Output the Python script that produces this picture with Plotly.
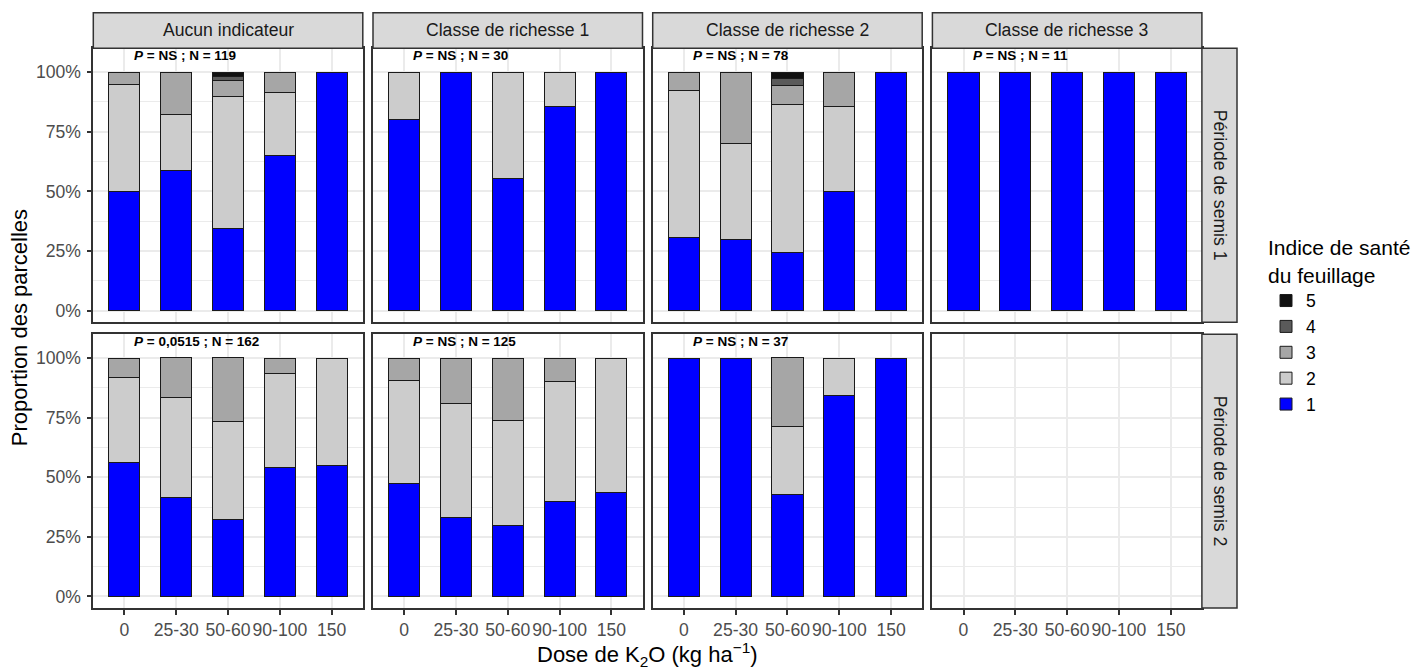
import plotly.graph_objects as go

# ---------------- data ----------------
categories = ["0", "25-30", "50-60", "90-100", "150"]
columns = ["Aucun indicateur", "Classe de richesse 1", "Classe de richesse 2", "Classe de richesse 3"]
rows = ["Période de semis 1", "Période de semis 2"]
levels = ["1", "2", "3", "4", "5"]
level_colors = ["#0000FF", "#CCCCCC", "#A6A6A6", "#5A5A5A", "#111111"]

# Période de semis 1 (percent of plots per health index 1..5)
p1_aucun_1 = [50.0, 58.8, 34.5, 65.2, 100.0]
p1_aucun_2 = [45.0, 23.5, 55.2, 26.1, 0.0]
p1_aucun_3 = [5.0, 17.6, 6.9, 8.7, 0.0]
p1_aucun_4 = [0.0, 0.0, 1.7, 0.0, 0.0]
p1_aucun_5 = [0.0, 0.0, 1.7, 0.0, 0.0]

p1_classe1_1 = [80.0, 100.0, 55.6, 85.7, 100.0]
p1_classe1_2 = [20.0, 0.0, 44.4, 14.3, 0.0]

p1_classe2_1 = [30.8, 30.0, 24.3, 50.0, 100.0]
p1_classe2_2 = [61.5, 40.0, 62.2, 35.7, 0.0]
p1_classe2_3 = [7.7, 30.0, 8.1, 14.3, 0.0]
p1_classe2_4 = [0.0, 0.0, 2.7, 0.0, 0.0]
p1_classe2_5 = [0.0, 0.0, 2.7, 0.0, 0.0]

p1_classe3_1 = [100.0, 100.0, 100.0, 100.0, 100.0]

# Période de semis 2
p2_aucun_1 = [56.0, 41.7, 32.4, 54.3, 55.0]
p2_aucun_2 = [36.0, 41.7, 41.2, 39.1, 45.0]
p2_aucun_3 = [8.0, 16.7, 26.5, 6.5, 0.0]

p2_classe1_1 = [47.6, 33.3, 29.6, 40.0, 43.8]
p2_classe1_2 = [42.9, 47.6, 44.4, 50.0, 56.2]
p2_classe1_3 = [9.5, 19.0, 25.9, 10.0, 0.0]

p2_classe2_1 = [100.0, 100.0, 42.9, 84.2, 100.0]
p2_classe2_2 = [0.0, 0.0, 28.6, 15.8, 0.0]
p2_classe2_3 = [0.0, 0.0, 28.6, 0.0, 0.0]

p_values_p1 = ["NS", "NS", "NS", "NS"]
n_values_p1 = [119, 30, 78, 11]
p_values_p2 = ["0,0515", "NS", "NS", None]
n_values_p2 = [162, 125, 37, None]

y_ticks = [0, 25, 50, 75, 100]
y_minor = [12.5, 37.5, 62.5, 87.5]

panel_series = {
    (0, 0): [p1_aucun_1, p1_aucun_2, p1_aucun_3, p1_aucun_4, p1_aucun_5],
    (0, 1): [p1_classe1_1, p1_classe1_2],
    (0, 2): [p1_classe2_1, p1_classe2_2, p1_classe2_3, p1_classe2_4, p1_classe2_5],
    (0, 3): [p1_classe3_1],
    (1, 0): [p2_aucun_1, p2_aucun_2, p2_aucun_3],
    (1, 1): [p2_classe1_1, p2_classe1_2, p2_classe1_3],
    (1, 2): [p2_classe2_1, p2_classe2_2, p2_classe2_3],
    (1, 3): [],
}
panel_labels = {(0, c): (p_values_p1[c], n_values_p1[c]) for c in range(4)}
panel_labels.update({(1, c): (p_values_p2[c], n_values_p2[c]) for c in range(4)})

# ---------------- layout geometry (pixels) ----------------
W, H = 1415, 671
col_px = [(93.3, 362.8), (373.0, 642.5), (652.7, 922.2), (932.4, 1201.9)]
row_px = [(48.3, 322.3), (334.3, 608.0)]
strip_top = 12.7
strip_right = 1237.0

FONT = "Liberation Sans, Arial, sans-serif"
GRID = "#EBEBEB"
BORDER = "#333333"


def px_x(v):
    return v / W


def px_y(v):
    return 1 - v / H


fig = go.Figure()
layout = {}
annotations = []
shapes = []
legend_shown = set()

for r in range(2):
    for c in range(4):
        n = r * 4 + c + 1
        xa = "x" if n == 1 else f"x{n}"
        ya = "y" if n == 1 else f"y{n}"
        series = panel_series[(r, c)]
        for k, vals in enumerate(series):
            show = k not in legend_shown
            legend_shown.add(k)
            fig.add_trace(go.Bar(
                x=categories,
                y=[v if v > 0 else None for v in vals],
                name=levels[k],
                legendgroup=levels[k],
                legendrank=len(levels) - k,
                showlegend=show,
                marker=dict(color=level_colors[k], line=dict(color="#1A1A1A", width=1)),
                width=0.6,
                xaxis=xa, yaxis=ya,
                hovertemplate="%{x}: %{y:.1f}%<extra>" + levels[k] + "</extra>",
            ))
        if not series:
            fig.add_trace(go.Scatter(x=categories, y=[None] * len(categories),
                                     mode="markers", showlegend=False,
                                     xaxis=xa, yaxis=ya, hoverinfo="skip"))

        x0, x1 = col_px[c]
        y0, y1 = row_px[r]
        layout["xaxis" if n == 1 else f"xaxis{n}"] = dict(
            domain=[px_x(x0), px_x(x1)], anchor=ya,
            type="category", categoryorder="array", categoryarray=categories,
            range=[-0.6, len(categories) - 0.4],
            showgrid=True, gridcolor=GRID, gridwidth=2,
            showline=True, mirror=True, linecolor=BORDER, linewidth=1.5,
            ticks="outside" if r == 1 else "", ticklen=5, tickwidth=1.5, tickcolor=BORDER,
            showticklabels=(r == 1), tickangle=0,
            tickfont=dict(family=FONT, size=17.6, color="#4D4D4D"),
            zeroline=False, fixedrange=True,
        )
        layout["yaxis" if n == 1 else f"yaxis{n}"] = dict(
            domain=[px_y(y1), px_y(y0)], anchor=xa,
            range=[-4.85, 110.0],
            tickvals=y_ticks, ticktext=[f"{t}%" for t in y_ticks],
            showgrid=True, gridcolor=GRID, gridwidth=2,
            minor=dict(tickvals=y_minor, showgrid=True, gridcolor=GRID, gridwidth=1, ticks=""),
            showline=True, mirror=True, linecolor=BORDER, linewidth=1.5,
            ticks="outside" if c == 0 else "", ticklen=5, tickwidth=1.5, tickcolor=BORDER,
            showticklabels=(c == 0), ticklabelstandoff=2,
            tickfont=dict(family=FONT, size=17.6, color="#4D4D4D"),
            zeroline=False, fixedrange=True,
        )

        pv, nv = panel_labels[(r, c)]
        if pv is not None:
            annotations.append(dict(
                xref=xa, yref=ya, x=0.14, y=107, xanchor="left", yanchor="middle",
                text=f"<b><i>P</i> = {pv} ; N = {nv}</b>", showarrow=False,
                font=dict(family=FONT, size=13.5, color="black"),
            ))

# column strips
for c, name in enumerate(columns):
    x0, x1 = col_px[c]
    shapes.append(dict(type="rect", xref="paper", yref="paper",
                       x0=px_x(x0), x1=px_x(x1), y0=px_y(row_px[0][0]), y1=px_y(strip_top),
                       fillcolor="#D9D9D9", line=dict(color=BORDER, width=1.5), layer="above"))
    annotations.append(dict(xref="paper", yref="paper", x=px_x((x0 + x1) / 2),
                            y=px_y((strip_top + row_px[0][0]) / 2), text=name, showarrow=False,
                            xanchor="center", yanchor="middle",
                            font=dict(family=FONT, size=17.6, color="#1A1A1A")))

# row strips
for r, name in enumerate(rows):
    y0, y1 = row_px[r]
    shapes.append(dict(type="rect", xref="paper", yref="paper",
                       x0=px_x(col_px[3][1]), x1=px_x(strip_right), y0=px_y(y1), y1=px_y(y0),
                       fillcolor="#D9D9D9", line=dict(color=BORDER, width=1.5), layer="above"))
    annotations.append(dict(xref="paper", yref="paper", x=px_x((col_px[3][1] + strip_right) / 2),
                            y=px_y((y0 + y1) / 2), text=name, showarrow=False, textangle=90,
                            xanchor="center", yanchor="middle",
                            font=dict(family=FONT, size=17.6, color="#1A1A1A")))

# axis titles
annotations.append(dict(xref="paper", yref="paper", x=px_x((col_px[0][0] + col_px[3][1]) / 2),
                        y=px_y(654), text="Dose de K<sub>2</sub>O (kg ha<sup>−1</sup>)",
                        showarrow=False, xanchor="center", yanchor="middle",
                        font=dict(family=FONT, size=22, color="black")))
annotations.append(dict(xref="paper", yref="paper", x=px_x(19),
                        y=px_y((row_px[0][0] + row_px[1][1]) / 2), text="Proportion des parcelles",
                        showarrow=False, textangle=-90, xanchor="center", yanchor="middle",
                        font=dict(family=FONT, size=22, color="black")))

fig.update_layout(
    width=W, height=H, autosize=False,
    margin=dict(l=0, r=0, t=0, b=0),
    paper_bgcolor="white", plot_bgcolor="white",
    barmode="stack", bargap=0.4,
    font=dict(family=FONT, color="black"),
    annotations=annotations, shapes=shapes,
    legend=dict(
        x=px_x(1266), y=px_y(228), xanchor="left", yanchor="top",
        traceorder="grouped", tracegroupgap=0,
        title=dict(text="Indice de santé<br>du feuillage", font=dict(family=FONT, size=21, color="black")),
        font=dict(family=FONT, size=17.6, color="black"),
        bgcolor="rgba(0,0,0,0)", itemwidth=30,
    ),
    **layout,
)

fig.write_html(
    "out.html",
    config={"displayModeBar": False},
    post_script="document.body.style.margin='0';document.body.style.overflow='hidden';",
)
